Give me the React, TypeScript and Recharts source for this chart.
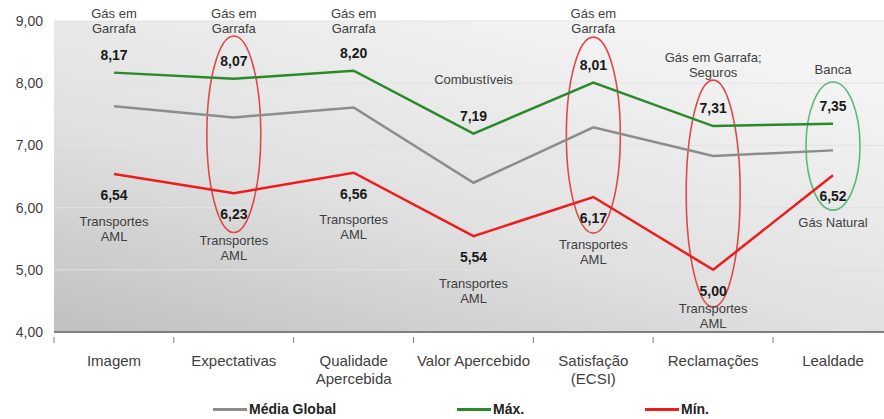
import React from 'react';
import {
  LineChart,
  Line,
  XAxis,
  YAxis,
  CartesianGrid,
  LabelList,
  ReferenceArea,
  Legend,
} from 'recharts';

// índices por dimensão do modelo ECSI
const categories = [
  'Imagem',
  'Expectativas',
  'Qualidade Apercebida',
  'Valor Apercebido',
  'Satisfação (ECSI)',
  'Reclamações',
  'Lealdade',
];
const categoryLines = [
  ['Imagem'],
  ['Expectativas'],
  ['Qualidade', 'Apercebida'],
  ['Valor Apercebido'],
  ['Satisfação', '(ECSI)'],
  ['Reclamações'],
  ['Lealdade'],
];
const mediaGlobal = [7.63, 7.45, 7.61, 6.4, 7.29, 6.83, 6.92];
const maxValues = [8.17, 8.07, 8.2, 7.19, 8.01, 7.31, 7.35];
const minValues = [6.54, 6.23, 6.56, 5.54, 6.17, 5.0, 6.52];

const maxSectors = [
  ['Gás em', 'Garrafa'],
  ['Gás em', 'Garrafa'],
  ['Gás em', 'Garrafa'],
  ['Combustíveis'],
  ['Gás em', 'Garrafa'],
  ['Gás em Garrafa;', 'Seguros'],
  ['Banca'],
];
const minSectors = [
  ['Transportes', 'AML'],
  ['Transportes', 'AML'],
  ['Transportes', 'AML'],
  ['Transportes', 'AML'],
  ['Transportes', 'AML'],
  ['Transportes', 'AML'],
  ['Gás Natural'],
];

const yTicks = [4, 5, 6, 7, 8, 9];

// elipses de destaque (limites em valores do eixo)
const highlightCategories = ['Expectativas', 'Satisfação (ECSI)', 'Reclamações', 'Lealdade'];
const highlightTop = [8.76, 8.74, 8.05, 8.02];
const highlightBottom = [5.6, 5.59, 4.4, 5.96];
const highlightKind = ['min', 'min', 'min', 'max'];

const COLORS = {
  media: '#8c8c8c',
  max: '#2a8a2a',
  min: '#ee1c1c',
  ringMin: '#e04848',
  ringMax: '#5cb87a',
  text: '#404040',
  value: '#1a1a1a',
};

const data = categories.map((name, i) => ({
  name,
  media: mediaGlobal[i],
  max: maxValues[i],
  min: minValues[i],
}));

const fmt = (v: number) => v.toFixed(2).replace('.', ',');

const FONT = 'Arial, "Liberation Sans", sans-serif';

const MaxLabel = (props: any) => {
  const { x, y, index } = props;
  const valueY = y - 18;
  const names = maxSectors[index] || [];
  const lastY = Math.max(valueY - 36, 28);
  return (
    <g fontFamily={FONT}>
      {names.map((t, k) => (
        <text
          key={k}
          x={x}
          y={lastY - (names.length - 1 - k) * 15}
          textAnchor="middle"
          dominantBaseline="central"
          fontSize={13}
          fill={COLORS.text}
        >
          {t}
        </text>
      ))}
      <text x={x} y={valueY} textAnchor="middle" dominantBaseline="central" fontSize={14} fontWeight="bold" fill={COLORS.value}>
        {fmt(maxValues[index])}
      </text>
    </g>
  );
};

const MinLabel = (props: any) => {
  const { x, y, index } = props;
  const valueY = y + 21;
  const names = minSectors[index] || [];
  const firstY = Math.min(valueY + 26, 323 - (names.length - 1) * 15);
  return (
    <g fontFamily={FONT}>
      <text x={x} y={valueY} textAnchor="middle" dominantBaseline="central" fontSize={14} fontWeight="bold" fill={COLORS.value}>
        {fmt(minValues[index])}
      </text>
      {names.map((t, k) => (
        <text
          key={k}
          x={x}
          y={firstY + k * 15}
          textAnchor="middle"
          dominantBaseline="central"
          fontSize={13}
          fill={COLORS.text}
        >
          {t}
        </text>
      ))}
    </g>
  );
};

const CategoryTick = (props: any) => {
  const { x, y, index } = props;
  const lines = categoryLines[index] || [];
  return (
    <g fontFamily={FONT}>
      <line x1={x - 60} x2={x - 60} y1={y - 3} y2={y + 3} stroke="#7f7f7f" strokeWidth={1} />
      {lines.map((t, k) => (
        <text key={k} x={x} y={y + 20 + k * 18} textAnchor="middle" dominantBaseline="central" fontSize={15} fill={COLORS.text}>
          {t}
        </text>
      ))}
    </g>
  );
};

const Ring = (color: string) => (props: any) => {
  const { x, y, width, height } = props;
  return (
    <ellipse
      cx={x + (width || 0) / 2}
      cy={y + height / 2}
      rx={27}
      ry={height / 2}
      fill="none"
      stroke={color}
      strokeWidth={1.6}
    />
  );
};

const legendItems = [
  { label: 'Média Global', color: COLORS.media, left: 213 },
  { label: 'Máx.', color: COLORS.max, left: 457 },
  { label: 'Mín.', color: COLORS.min, left: 645 },
];

const renderLegend = () => (
  <div style={{ position: 'relative', height: 32, fontFamily: FONT }}>
    {legendItems.map((it) => (
      <div
        key={it.label}
        style={{ position: 'absolute', left: it.left, top: 14, display: 'flex', alignItems: 'center', height: 16 }}
      >
        <span style={{ display: 'inline-block', width: 34, height: 3, background: it.color, marginRight: 2 }} />
        <span style={{ fontSize: 14, fontWeight: 'bold', color: '#222' }}>{it.label}</span>
      </div>
    ))}
  </div>
);

export default function App() {
  return (
    <div style={{ position: 'absolute', left: 0, top: 0, width: 884, height: 419, overflow: 'hidden', background: '#fff' }}>
      <LineChart width={900} height={419} data={data} margin={{ top: 21, right: 7, left: 0, bottom: 0 }}>
        <defs>
          <linearGradient id="plotBg" x1="0" y1="1" x2="0.7" y2="0">
            <stop offset="0%" stopColor="#c0c0c0" />
            <stop offset="45%" stopColor="#e0e0e0" />
            <stop offset="100%" stopColor="#f4f4f4" />
          </linearGradient>
        </defs>
        <CartesianGrid vertical={false} stroke="#e2e2e2" strokeWidth={1} fill="url(#plotBg)" />
        <XAxis
          dataKey="name"
          interval={0}
          padding={{ left: 60, right: 60 }}
          axisLine={{ stroke: '#7f7f7f', strokeWidth: 2 }}
          tickLine={false}
          tick={<CategoryTick />}
          height={55}
        />
        <YAxis
          domain={[4, 9]}
          ticks={yTicks}
          tickFormatter={fmt}
          axisLine={false}
          tickLine={false}
          tickSize={0}
          tickMargin={11}
          width={54}
          tick={{ fill: COLORS.text, fontSize: 14, fontFamily: FONT }}
        />
        {highlightCategories.map((c, i) => (
          <ReferenceArea
            key={c}
            x1={c}
            x2={c}
            y1={highlightBottom[i]}
            y2={highlightTop[i]}
            shape={Ring(highlightKind[i] === 'max' ? COLORS.ringMax : COLORS.ringMin)}
          />
        ))}
        <Line type="linear" dataKey="media" name="Média Global" stroke={COLORS.media} strokeWidth={2.5} dot={false} isAnimationActive={false} />
        <Line type="linear" dataKey="max" name="Máx." stroke={COLORS.max} strokeWidth={2.5} dot={false} isAnimationActive={false}>
          <LabelList dataKey="max" content={<MaxLabel />} />
        </Line>
        <Line type="linear" dataKey="min" name="Mín." stroke={COLORS.min} strokeWidth={2.5} dot={false} isAnimationActive={false}>
          <LabelList dataKey="min" content={<MinLabel />} />
        </Line>
        <Legend verticalAlign="bottom" height={32} content={renderLegend} />
      </LineChart>
    </div>
  );
}
